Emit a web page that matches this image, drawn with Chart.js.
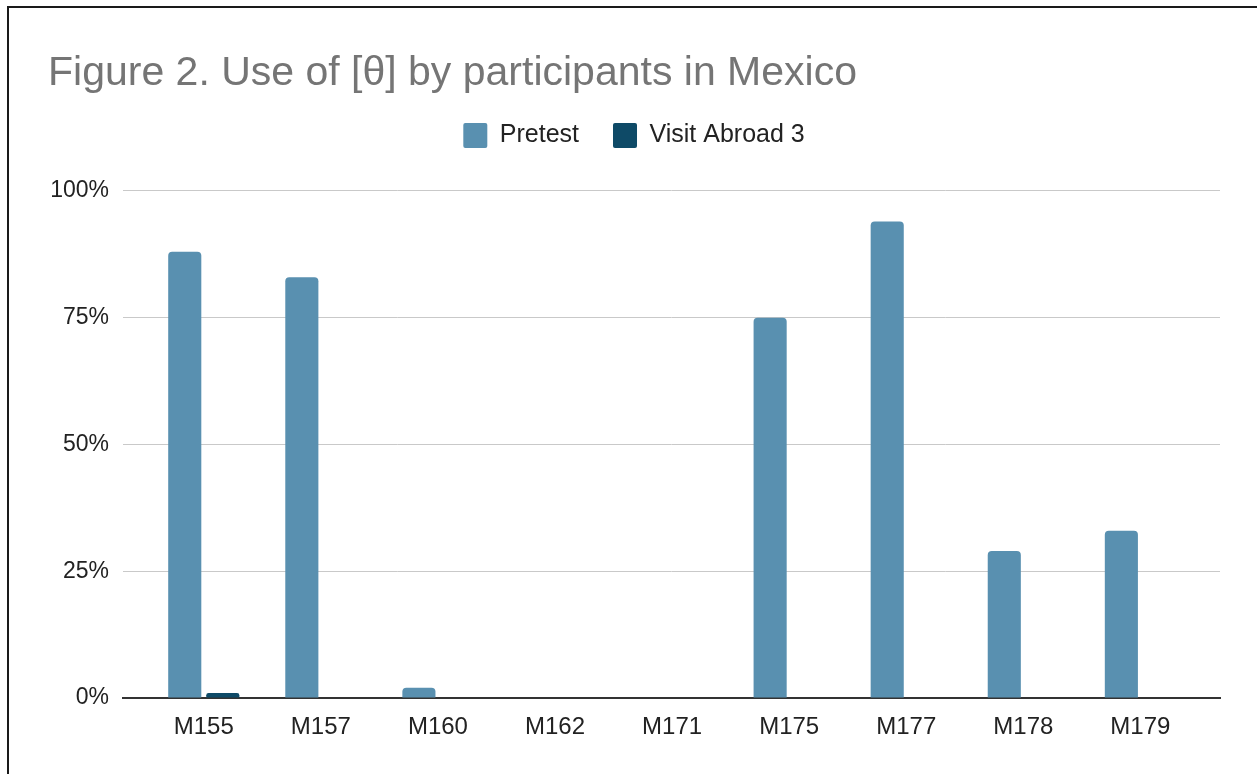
<!DOCTYPE html>
<html>
<head>
<meta charset="utf-8">
<script src="https://cdn.jsdelivr.net/npm/chart.js@4/dist/chart.umd.min.js"></script>
<style>
  html, body { margin: 0; padding: 0; background: #fff; }
  #wrap { position: relative; width: 1257px; height: 774px; overflow: hidden; }
  #frame { position: absolute; left: 7px; top: 6px; right: -10px; bottom: -10px;
           border-left: 2px solid #1a1a1a; border-top: 2px solid #1a1a1a; pointer-events: none; }
  canvas { position: absolute; left: 0; top: 0; }
</style>
</head>
<body>
<div id="wrap">
  <canvas id="chart" width="1257" height="774"></canvas>
  <div id="frame"></div>
</div>
<script>
// Participants and share of [θ] use at each test point
const participants = ["M155", "M157", "M160", "M162", "M171", "M175", "M177", "M178", "M179"];
const pretest = [88, 83, 2, 0, 0, 75, 94, 29, 33];
const visitAbroad3 = [1, 0, 0, 0, 0, 0, 0, 0, 0];
const yTicks = [0, 25, 50, 75, 100];

const FONT = "'Liberation Sans', Arial, sans-serif";

const toPoints = arr => arr.map((v, i) => ({ x: i, y: v }));

new Chart(document.getElementById('chart'), {
  type: 'bar',
  data: {
    datasets: [
      {
        label: 'Pretest',
        data: toPoints(pretest),
        backgroundColor: '#5990b0',
        borderRadius: { topLeft: 4, topRight: 4 },
        borderSkipped: 'start',
        categoryPercentage: 0.65,
        barPercentage: 0.87
      },
      {
        label: 'Visit Abroad 3',
        data: toPoints(visitAbroad3),
        backgroundColor: '#0e4a67',
        borderRadius: { topLeft: 4, topRight: 4 },
        borderSkipped: 'start',
        categoryPercentage: 0.65,
        barPercentage: 0.87
      }
    ]
  },
  options: {
    responsive: false,
    animation: false,
    layout: { padding: { left: 48, right: 37, top: 0, bottom: 0 } },
    plugins: {
      tooltip: { enabled: false },
      title: {
        display: true,
        text: 'Figure 2. Use of [θ] by participants in Mexico',
        align: 'start',
        color: '#757575',
        font: { family: FONT, size: 41, weight: 'normal', lineHeight: 0.756 },
        padding: { top: 58, bottom: 0 }
      },
      legend: {
        display: true,
        position: 'top',
        align: 'center',
        labels: {
          color: '#222',
          font: { family: FONT, size: 25 },
          boxWidth: 24,
          boxHeight: 25,
          useBorderRadius: true,
          borderRadius: 2,
          padding: 34
        }
      },
      // empty spacer band between the legend and the plot
      subtitle: {
        display: true,
        text: '',
        weight: 500,
        font: { family: FONT, size: 33, lineHeight: 1 },
        padding: 0
      }
    },
    scales: {
      x: {
        type: 'linear',
        min: -0.69,
        max: 8.68,
        offset: false,
        grid: { display: false, drawTicks: false },
        border: { display: true, color: '#333', width: 2 },
        afterBuildTicks: scale => {
          scale.ticks = participants.map((_, i) => ({ value: i }));
        },
        afterFit: scale => { scale.height = 76; },
        ticks: {
          autoSkip: false,
          maxRotation: 0,
          padding: 15,
          color: '#222',
          font: { family: FONT, size: 24 },
          callback: v => participants[v]
        }
      },
      y: {
        min: 0,
        max: 100,
        afterBuildTicks: scale => {
          scale.ticks = yTicks.map(v => ({ value: v }));
        },
        afterFit: scale => { scale.width = 75; },
        grid: { color: '#c9c9c9', lineWidth: 1, drawTicks: false },
        border: { display: false },
        ticks: {
          padding: 14,
          color: '#222',
          font: { family: FONT, size: 23 },
          callback: v => v + '%'
        }
      }
    }
  }
});
</script>
</body>
</html>
